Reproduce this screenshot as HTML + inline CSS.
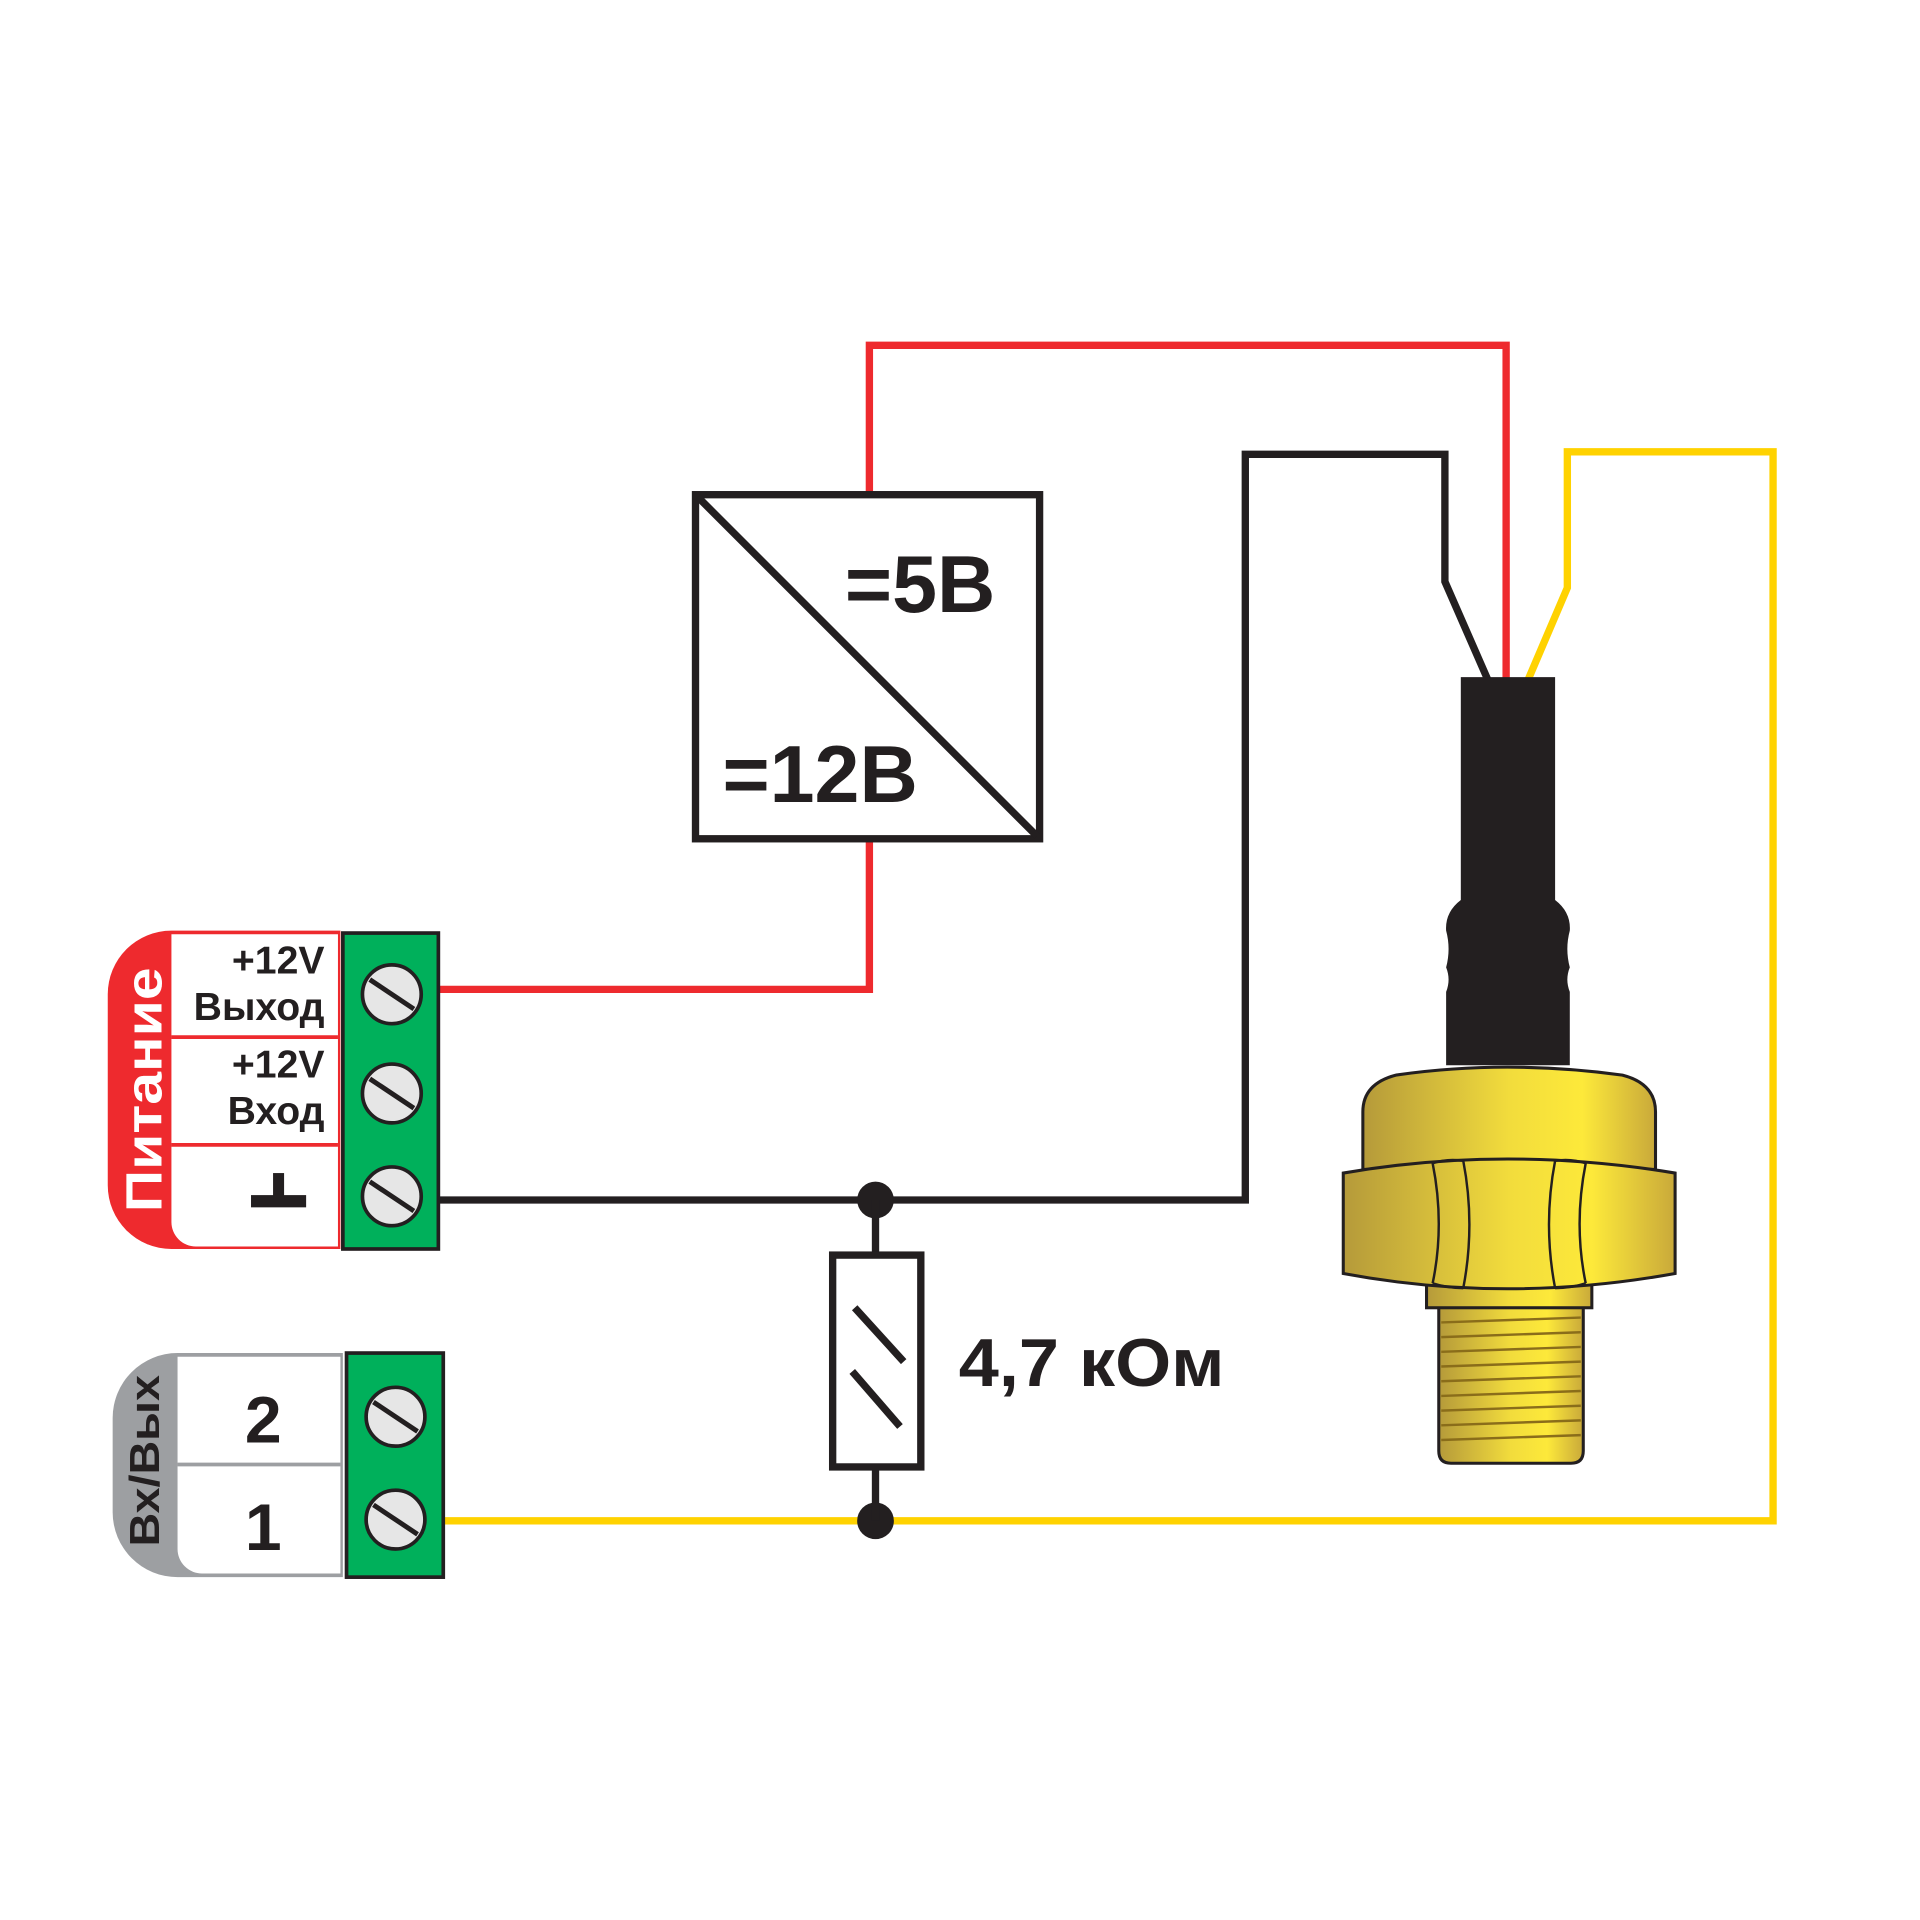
<!DOCTYPE html>
<html><head><meta charset="utf-8"><style>html,body{margin:0;padding:0;background:#fff}svg{display:block}</style></head>
<body>
<svg width="1920" height="1920" viewBox="0 0 1568 1568" xmlns="http://www.w3.org/2000/svg" font-family="Liberation Sans, DejaVu Sans, sans-serif">
<defs>
<linearGradient id="g" x1="0" x2="1" y1="0" y2="0">
<stop offset="0" stop-color="#b59a3a"/><stop offset="0.5" stop-color="#f2dc3c"/><stop offset="0.75" stop-color="#fde93a"/><stop offset="1" stop-color="#c9a93a"/></linearGradient>
</defs>
<rect width="1568" height="1568" fill="#fff"/>
<polyline points="358,808 710,808 710,685" fill="none" stroke="#ee2a2e" stroke-width="6"/>
<polyline points="710,405 710,282 1230,282 1230,555" fill="none" stroke="#ee2a2e" stroke-width="6"/>
<polyline points="358,980 1017,980 1017,371 1180,371 1180,475 1215,555" fill="none" stroke="#231f20" stroke-width="6"/>
<polyline points="362,1242 1448,1242 1448,369 1280,369 1280,480 1248,555" fill="none" stroke="#ffd200" stroke-width="6"/>
<circle cx="715" cy="980" r="15" fill="#231f20"/>
<circle cx="715" cy="1242" r="15" fill="#231f20"/>
<rect x="568" y="404" width="281" height="281" fill="#fff" stroke="#231f20" stroke-width="6"/>
<line x1="570" y1="406" x2="847" y2="683" stroke="#231f20" stroke-width="6"/>
<text x="690" y="500" font-size="66" font-weight="bold" fill="#231f20">=5В</text>
<text x="590" y="655" font-size="66" font-weight="bold" fill="#231f20">=12В</text>
<line x1="715" y1="980" x2="715" y2="1242" stroke="#231f20" stroke-width="6"/>
<rect x="680" y="1025" width="72" height="173" fill="#fff" stroke="#231f20" stroke-width="6"/>
<line x1="698" y1="1068" x2="738" y2="1112" stroke="#231f20" stroke-width="6"/>
<line x1="696" y1="1120" x2="735" y2="1165" stroke="#231f20" stroke-width="6"/>
<text x="783" y="1132" font-size="55" font-weight="bold" fill="#231f20" textLength="217" lengthAdjust="spacingAndGlyphs">4,7 кОм</text>
<path d="M140,760 H278 V1020 H140 A52,52 0 0 1 88,968 V812 A52,52 0 0 1 140,760 Z" fill="#ee2a2e"/>
<path d="M140,763 H276 V1018 H160 A20,20 0 0 1 140,998 Z" fill="#fff"/>
<line x1="140" y1="847" x2="276" y2="847" stroke="#ee2a2e" stroke-width="3"/>
<line x1="140" y1="935" x2="276" y2="935" stroke="#ee2a2e" stroke-width="3"/>
<text transform="translate(132,890) rotate(-90)" text-anchor="middle" font-size="42" font-weight="bold" fill="#fff" textLength="200" lengthAdjust="spacingAndGlyphs">Питание</text>
<g font-size="32" font-weight="bold" fill="#231f20" text-anchor="end">
<text x="265" y="795">+12V</text><text x="265" y="833">Выход</text>
<text x="265" y="880">+12V</text><text x="265" y="918">Вход</text></g>
<rect x="205" y="976" width="45" height="10" fill="#231f20"/><rect x="223" y="958" width="9" height="22" fill="#231f20"/>
<rect x="280" y="762" width="78" height="258" fill="#00b05b" stroke="#231f20" stroke-width="3"/>
<path d="M145,1105 H280 V1288 H145 A53,53 0 0 1 92,1235 V1158 A53,53 0 0 1 145,1105 Z" fill="#9d9fa2"/>
<path d="M145,1108 H278 V1285 H165 A20,20 0 0 1 145,1265 Z" fill="#fff"/>
<line x1="145" y1="1196" x2="278" y2="1196" stroke="#9d9fa2" stroke-width="3"/>
<text transform="translate(130,1193) rotate(-90)" text-anchor="middle" font-size="34" font-weight="bold" fill="#231f20" textLength="140" lengthAdjust="spacingAndGlyphs">Вх/Вых</text>
<text x="215" y="1178" text-anchor="middle" font-size="54" font-weight="bold" fill="#231f20">2</text>
<text x="215" y="1266" text-anchor="middle" font-size="54" font-weight="bold" fill="#231f20">1</text>
<rect x="283" y="1105" width="79" height="183" fill="#00b05b" stroke="#231f20" stroke-width="3"/>
<g stroke="#231f20" stroke-width="3" fill="#e6e6e6">
<circle cx="320" cy="812" r="24"/><circle cx="320" cy="893" r="24"/><circle cx="320" cy="977" r="24"/>
<circle cx="323" cy="1157" r="24"/><circle cx="323" cy="1241" r="24"/></g>
<g stroke="#231f20" stroke-width="4">
<line x1="302" y1="800" x2="338" y2="824"/><line x1="302" y1="881" x2="338" y2="905"/><line x1="302" y1="965" x2="338" y2="989"/>
<line x1="305" y1="1145" x2="341" y2="1169"/><line x1="305" y1="1229" x2="341" y2="1253"/></g>
<path d="M1193,553 H1270 V735 Q1283,745 1282,760 Q1278,775 1282,790 Q1278,800 1282,810 V870 H1181 V810 Q1185,800 1181,790 Q1185,775 1181,760 Q1180,745 1193,735 Z" fill="#231f20"/>
<path d="M1175,1060 H1293 V1185 Q1293,1195 1283,1195 H1185 Q1175,1195 1175,1185 Z" fill="url(#g)" stroke="#231f20" stroke-width="2.5"/>
<g stroke="#8a6d1a" stroke-width="2">
<line x1="1177" y1="1080" x2="1291" y2="1076"/><line x1="1177" y1="1092" x2="1291" y2="1088"/><line x1="1177" y1="1104" x2="1291" y2="1100"/><line x1="1177" y1="1116" x2="1291" y2="1112"/><line x1="1177" y1="1128" x2="1291" y2="1124"/><line x1="1177" y1="1140" x2="1291" y2="1136"/><line x1="1177" y1="1152" x2="1291" y2="1148"/><line x1="1177" y1="1164" x2="1291" y2="1160"/><line x1="1177" y1="1176" x2="1291" y2="1172"/></g>
<rect x="1165" y="1048" width="135" height="20" fill="url(#g)" stroke="#231f20" stroke-width="2.5"/>
<path d="M1113,955 V908 Q1113,885 1140,878 Q1230,865 1325,878 Q1352,885 1352,908 V955 Z" fill="url(#g)" stroke="#231f20" stroke-width="2.5"/>
<path d="M1097,958 Q1230,935 1368,958 V1040 Q1230,1065 1097,1040 Z" fill="url(#g)" stroke="#231f20" stroke-width="2.5"/>
<g fill="none" stroke="#231f20" stroke-width="2">
<path d="M1170,950 Q1180,1000 1170,1048"/><path d="M1195,948 Q1205,1000 1195,1052"/><path d="M1170,950 Q1182,946 1195,948"/><path d="M1170,1048 Q1182,1052 1195,1052"/>
<path d="M1270,948 Q1260,1000 1270,1052"/><path d="M1295,950 Q1285,1000 1295,1048"/><path d="M1270,948 Q1283,946 1295,950"/><path d="M1270,1052 Q1283,1052 1295,1048"/>
</g>
</svg>
</body></html>
